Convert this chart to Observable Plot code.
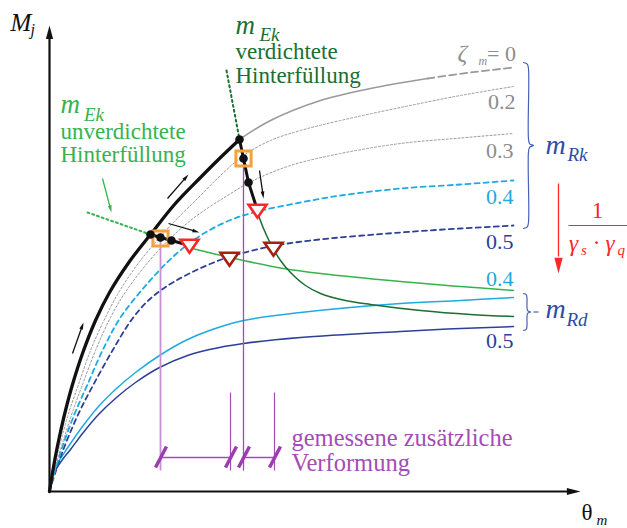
<!DOCTYPE html>
<html>
<head>
<meta charset="utf-8">
<script src="https://cdn.jsdelivr.net/npm/d3@7"></script>
<script src="https://cdn.jsdelivr.net/npm/@observablehq/plot@0.6"></script>
<style>
  html, body { margin: 0; padding: 0; background: #fff; }
  #chart svg text { font-family: "Liberation Serif", serif; }
</style>
</head>
<body>
<div id="chart"></div>
<script>
// Joint moment M_j against rotation θ_m (schematic units), resistance curves
// for several degrees of damage ζ_m and the two action curves m_Ek.

// Loading branch up to the intersection with the compacted-backfill action curve
const loadingPath = [[0,0],[0.2,1.3],[0.6,3.7],[1.2,7.1],[2,11],[3.2,16.2],[4.6,21.4],[6.6,27.6],[9.2,34.2],[12,39.8],[16,46],[20.2,51.4],[25,57.4],[30,62.6],[34,66.6],[38,70.4]];
// ζ_m = 0 characteristic resistance beyond the peak, solid then dashed
const rk00Upper = [[38,70.4],[44.2,74.2],[54.2,78.2],[64.2,80.6],[75.6,82.6]];
const rk00Tail = [[75.6,82.6],[84.2,83.8],[92.8,84.8]];
// characteristic resistance m_Rk for ζ_m = 0.2 … 0.5
const rk02 = [[0,0],[0.25,1.3],[0.76,3.7],[1.5,7.1],[2.5,11],[4,16.2],[5.8,21.4],[8.2,28.2],[10.6,33.6],[13.6,39.4],[17,44.6],[19.8,48.2],[24.2,53.2],[29.6,58.6],[34.2,63.2],[38.8,67.2],[44.2,70.2],[50.2,72.2],[58.2,74.2],[70.2,76.8],[82.2,79.2],[92.8,81]];
const rk03 = [[0,0],[0.3,1.3],[0.9,3.7],[1.8,7.1],[3,11],[4.7,16.2],[6.6,21.4],[9.2,28.2],[12.2,34.8],[15.4,40.2],[21.6,48],[28.2,54.2],[35.6,59.2],[40.8,62.2],[48.2,65.2],[58.2,67.6],[70.2,69.6],[82.2,70.7],[92.8,71.6]];
const rk04 = [[0,0],[0.33,1.3],[1,3.7],[2,7.1],[3.3,11],[5.3,16.2],[7.6,21.4],[10.6,28.2],[14.2,34.8],[19.6,41.6],[25.2,47.4],[30.2,51.2],[36.2,54.3],[41.6,56],[50.2,57.8],[58.2,59.2],[70.2,60.6],[82.2,61.4],[92.8,62.2]];
const rk05 = [[0,0],[0.38,1.3],[1.15,3.7],[2.3,7.1],[3.8,11],[6.1,16.2],[8.8,21.4],[12.6,28.2],[16.6,34.6],[20.2,38.6],[24,41.4],[27.2,43.2],[31.4,45.2],[36.2,47],[44.2,49],[52.2,50.2],[70.2,51.8],[82.2,52.6],[92.8,53.2]];
// design resistance m_Rd for ζ_m = 0.4 and 0.5
const rd04 = [[0,0],[0.2,1.8],[0.6,3.4],[1.4,5.4],[2.6,7.2],[4.2,9.6],[6.6,13],[9.8,17],[13.4,20.6],[17.2,23.8],[22,27.2],[27.2,30.2],[32,32.2],[38.8,34.2],[50.2,35.8],[70.2,37.6],[82.2,38.2],[92.8,38.8]];
const rd05 = [[0,0],[0.2,1.6],[0.6,3],[1.4,4.6],[2.6,6.4],[4.2,8.4],[6.6,11.6],[9.8,15.4],[13.4,18.8],[17.2,21.8],[22,24.8],[27.6,27.2],[32,28.4],[38.8,29.6],[50.2,30.8],[70.2,32],[82.2,32.6],[92.8,33]];
// action curves m_Ek
const ekLoose = [[28,48.8],[30.2,48.2],[38.8,46.2],[46.8,44.6],[54.2,43.6],[70.2,42],[82.2,41],[92.8,40.2]];
const ekLooseLead = [[7.6,55.8],[20.2,51.4]];
const ekDense = [[41.6,55.8],[42.8,52.6],[44.2,49.6],[46.2,46.2],[48.2,43.8],[51.2,41.2],[54.2,39.6],[59.2,38.2],[64.2,37.4],[74.2,36.2],[84.2,35.4],[92.8,35]];
const ekDenseLead = [[35.4,84.2],[38,70.4]];
// equilibrium paths after the load step
const pathLoose = [[20.2,51.4],[22.2,50.8],[24.4,50.2],[28,49.2]];
const pathDense = [[38,70.4],[38.8,66.6],[39.8,61.8],[41.6,56.2]];
const pathPoints = [[20.2,51.4],[22.2,50.8],[24.4,50.2],[38,70.4],[38.8,66.6],[39.8,61.8]];
const measuredStates = [[22.2,50.6],[38.8,66.6]];
const rkIntersections = [[28,49.2],[41.6,56.2]];
const rdIntersections = [[36,46.6],[44.8,48.6]];
// measured additional deformation
const measureStart = [22.2, 38.8];
const measureEnd = [36.2, 45.0];
const measureTop = [50.6, 66.6];
// direction arrows [θ1, M1, θ2, M2]
const directionArrows = [[4.6,27.6,6.8,33.8],[23.6,58.6,27.8,63.4],[23.8,53.6,30,51.8],[42,64.2,42.8,58.6]];
const looseArrow = [[10.6,62.6,12.4,55.8]];
// curve labels
const rkLabels = ["0.2", "0.3", "0.4", "0.5"];
const rkLabelM = [76.6, 66.8, 57.6, 48.6];
const rdLabels = ["0.4", "0.5"];
const rdLabelM = [41.2, 28.8];
const braces = [{name: "Rk", x: 94.8, top: 85.8, bottom: 52.6, tip: 96.8}, {name: "Rd", x: 94.8, top: 39.6, bottom: 32.2, tip: 96.2}];

const serif = "Liberation Serif";
const C = {
  gray: "#9a9a9a", grayText: "#8c8c8c", cyan: "#1eaae2", blue: "#2d3f98", blueText: "#2f4ba8",
  green: "#36b34e", dark: "#1b6f30", purple: "#a54bb8", purpleLight: "#c88fd7",
  orange: "#f6a23c", red: "#ff2626", darkRed: "#a4200f"
};

const P = a => a.map(([t, m]) => ({t, m}));
const curve = (a, o) => Plot.line(P(a), {x: "t", y: "m", curve: "catmull-rom", ...o});
const label = (s, t, m, o) => Plot.text([{s, t, m}], {
  x: "t", y: "m", text: "s", lineAnchor: "bottom", textAnchor: "start",
  fontFamily: serif, fontSize: 22, ...o
});

// filled arrow head with its tip at the anchor point; (dx, dy) is the screen direction
const head = (dx, dy) => ({
  draw(ctx, size) {
    const r = Math.sqrt(size / Math.PI), L = 3.4 * r, W = 0.9 * r, px = -dy, py = dx;
    ctx.moveTo(0, 0);
    ctx.lineTo(-dx * L + px * W, -dy * L + py * W);
    ctx.lineTo(-dx * L - px * W, -dy * L - py * W);
    ctx.closePath();
  }
});
const triangleDown = {
  draw(ctx, size) {
    const r = Math.sqrt(size / Math.PI);
    ctx.moveTo(-1.5 * r, -0.95 * r);
    ctx.lineTo(1.5 * r, -0.95 * r);
    ctx.lineTo(0, 1.2 * r);
    ctx.closePath();
  }
};

// both scales use the same number of pixels per unit, so screen direction = (dθ, -dM)
function arrowMarks(list, color) {
  return list.flatMap(([x1, y1, x2, y2]) => {
    const len = Math.hypot(x2 - x1, y2 - y1), ux = (x2 - x1) / len, uy = (y2 - y1) / len;
    return [
      Plot.link([{x1, y1, x2: x2 - ux * 0.9, y2: y2 - uy * 0.9}], {x1: "x1", y1: "y1", x2: "x2", y2: "y2", stroke: color, strokeWidth: 1.3}),
      Plot.dot([{t: x2, m: y2}], {x: "t", y: "m", symbol: head(ux, -uy), r: 2.1, fill: color})
    ];
  });
}

function braceShape({x, top, bottom, tip}) {
  const w = tip - x, mid = (top + bottom) / 2, c = Math.min(1.3, (top - bottom) * 0.12);
  return [[x, top], [x + 0.38 * w, top - 0.25 * c], [x + 0.5 * w, top - c], [x + 0.5 * w, mid + c],
    [x + 0.62 * w, mid + 0.25 * c], [tip, mid], [x + 0.62 * w, mid - 0.25 * c], [x + 0.5 * w, mid - c],
    [x + 0.5 * w, bottom + c], [x + 0.38 * w, bottom + 0.25 * c], [x, bottom]];
}

const spans = measureStart.map((a, i) => ({a, b: measureEnd[i], top: measureTop[i]}));
const ticks = [...measureStart, ...measureEnd];
const seg = (x1, y1, x2, y2, o) => Plot.link([{x1, y1, x2, y2}], {x1: "x1", y1: "y1", x2: "x2", y2: "y2", ...o});

const chart = Plot.plot({
  width: 627,
  height: 528,
  marginLeft: 49, marginRight: 47, marginTop: 25, marginBottom: 37,
  x: {domain: [0, 106.2], axis: null},
  y: {domain: [0, 93.2], axis: null},
  style: {background: "#fff", overflow: "visible", fontFamily: serif},
  marks: [
    // design resistance
    curve(rd05, {stroke: C.blue, strokeWidth: 1.5}),
    curve(rd04, {stroke: C.cyan, strokeWidth: 1.5}),
    // characteristic resistance
    curve(rk05, {stroke: C.blue, strokeWidth: 1.8, strokeDasharray: "5,4"}),
    curve(rk04, {stroke: C.cyan, strokeWidth: 1.8, strokeDasharray: "5,4"}),
    curve(rk03, {stroke: C.gray, strokeWidth: 1, strokeDasharray: "2,2"}),
    curve(rk02, {stroke: C.gray, strokeWidth: 1, strokeDasharray: "2,2"}),
    curve(rk00Upper, {stroke: C.gray, strokeWidth: 1.5}),
    curve(rk00Tail, {stroke: C.gray, strokeWidth: 1.8, strokeDasharray: "7,4"}),
    // action curves
    curve(ekLoose, {stroke: C.green, strokeWidth: 1.5}),
    curve(ekDense, {stroke: C.dark, strokeWidth: 1.5}),
    Plot.line(P(ekLooseLead), {x: "t", y: "m", stroke: C.green, strokeWidth: 2, strokeDasharray: "2,3"}),
    Plot.line(P(ekDenseLead), {x: "t", y: "m", stroke: C.dark, strokeWidth: 2, strokeDasharray: "2,3"}),
    // measured deformation
    Plot.link(spans, {x1: "a", x2: "a", y1: "top", y2: 4.2, stroke: (d, i) => i === 0 ? C.purpleLight : C.purple, strokeWidth: (d, i) => i === 0 ? 1.8 : 1.3}),
    Plot.link(measureEnd, {x1: d => d, x2: d => d, y1: 19.8, y2: 4.2, stroke: C.purple, strokeWidth: 1.2}),
    Plot.link(spans, {x1: "a", x2: "b", y1: 6.8, y2: 6.8, stroke: C.purple, strokeWidth: 1.5}),
    Plot.link(ticks, {x1: d => d - 1, x2: d => d + 1.2, y1: 4.8, y2: 9, stroke: "#9c3cb0", strokeWidth: 3.5}),
    // loading and equilibrium paths
    curve(loadingPath, {stroke: "#111", strokeWidth: 3.3}),
    Plot.line(P(pathLoose), {x: "t", y: "m", stroke: "#111", strokeWidth: 3}),
    Plot.line(P(pathDense), {x: "t", y: "m", stroke: "#111", strokeWidth: 3}),
    Plot.dot(P(measuredStates), {x: "t", y: "m", symbol: "square", r: 8.6, stroke: C.orange, strokeWidth: 3, fill: "none"}),
    Plot.dot(P(pathPoints), {x: "t", y: "m", r: 4.3, fill: "#111"}),
    Plot.dot(P(rkIntersections), {x: "t", y: "m", symbol: triangleDown, r: 6, stroke: C.red, strokeWidth: 2.6, fill: "#fff"}),
    Plot.dot(P(rdIntersections), {x: "t", y: "m", symbol: triangleDown, r: 6, stroke: C.darkRed, strokeWidth: 2.6, fill: "#fff"}),
    ...arrowMarks(directionArrows, "#111"),
    ...arrowMarks(looseArrow, C.green),
    // axes
    seg(0, 0, 0, 91, {stroke: "#111", strokeWidth: 2.2}),
    seg(0, 0, 103.6, 0, {stroke: "#111", strokeWidth: 2.2}),
    Plot.dot([{t: 0, m: 93.2}], {x: "t", y: "m", symbol: head(0, -1), r: 4, fill: "#111"}),
    Plot.dot([{t: 106.2, m: 0}], {x: "t", y: "m", symbol: head(1, 0), r: 4, fill: "#111"}),
    // braces
    ...braces.map(b => curve(braceShape(b), {stroke: "#4662b4", strokeWidth: 1.2})),
    Plot.link([braces[1]], {x1: d => d.tip + 0.6, x2: d => d.tip + 1.6, y1: d => (d.top + d.bottom) / 2, y2: d => (d.top + d.bottom) / 2, stroke: "#4662b4", strokeWidth: 1.2}),
    // partial safety factors
    seg(101.8, 61.6, 101.8, 47, {stroke: C.red, strokeWidth: 1.3}),
    Plot.dot([{t: 101.8, m: 43.6}], {x: "t", y: "m", symbol: head(0, 1), r: 4.6, fill: C.red}),
    seg(103.8, 53.2, 116, 53.2, {stroke: C.red, strokeWidth: 1.2}),
    label("1", 109.6, 54.8, {fill: C.red, fontSize: 23, textAnchor: "middle"}),
    label("γ", 103.9, 48.2, {fill: C.red, fontSize: 23, fontStyle: "italic"}),
    label("s", 106.3, 47.3, {fill: C.red, fontSize: 15, fontStyle: "italic"}),
    label("·", 109.4, 48.4, {fill: C.red, fontSize: 23, textAnchor: "middle"}),
    label("γ", 111.2, 48.2, {fill: C.red, fontSize: 23, fontStyle: "italic"}),
    label("q", 113.6, 47.3, {fill: C.red, fontSize: 15, fontStyle: "italic"}),
    // axis titles
    label("M", -7.8, 92.2, {fill: "#111", fontSize: 25, fontStyle: "italic"}),
    label("j", -3.8, 91.3, {fill: "#111", fontSize: 16, fontStyle: "italic"}),
    label("θ", 106.4, -5.6, {fill: "#111", fontSize: 23}),
    label("m", 109.4, -6.6, {fill: "#111", fontSize: 15, fontStyle: "italic"}),
    // action curve labels
    label("m", 37.2, 91.6, {fill: C.dark, fontSize: 27, fontStyle: "italic"}),
    label("Ek", 42.0, 90.2, {fill: C.dark, fontSize: 19, fontStyle: "italic"}),
    label("verdichtete", 37.2, 86.6, {fill: C.dark, fontSize: 23}),
    label("Hinterfüllung", 37.2, 81.8, {fill: C.dark, fontSize: 23}),
    label("m", 2.2, 75.8, {fill: C.green, fontSize: 27, fontStyle: "italic"}),
    label("Ek", 6.9, 74.2, {fill: C.green, fontSize: 19, fontStyle: "italic"}),
    label("unverdichtete", 2.2, 70.6, {fill: C.green, fontSize: 23}),
    label("Hinterfüllung", 2.2, 66, {fill: C.green, fontSize: 23}),
    // resistance curve labels
    label("ζ", 81.6, 86.2, {fill: C.grayText, fontSize: 24, fontStyle: "italic"}),
    label("m", 85.8, 85.4, {fill: C.grayText, fontSize: 12, fontStyle: "italic"}),
    label("= 0", 93.3, 86.2, {fill: C.grayText, fontSize: 22, textAnchor: "end"}),
    Plot.text(rkLabels, {x: (d, i) => i === 0 ? 93.2 : 92.8, y: (d, i) => rkLabelM[i], text: d => d,
      fill: (d, i) => i < 2 ? C.grayText : i === 2 ? C.cyan : C.blue,
      lineAnchor: "bottom", textAnchor: "end", fontFamily: serif, fontSize: 22}),
    Plot.text(rdLabels, {x: 92.8, y: (d, i) => rdLabelM[i], text: d => d,
      fill: (d, i) => i === 0 ? C.cyan : C.blue,
      lineAnchor: "bottom", textAnchor: "end", fontFamily: serif, fontSize: 22}),
    label("m", 99.2, 67.6, {fill: C.blueText, fontSize: 28, fontStyle: "italic"}),
    label("Rk", 103.6, 66.2, {fill: C.blueText, fontSize: 19, fontStyle: "italic"}),
    label("m", 99.2, 34.8, {fill: C.blueText, fontSize: 28, fontStyle: "italic"}),
    label("Rd", 103.4, 33.2, {fill: C.blueText, fontSize: 19, fontStyle: "italic"}),
    // measurement note
    label("gemessene zusätzliche", 48.4, 9.2, {fill: C.purple, fontSize: 24.5}),
    label("Verformung", 48.4, 4.2, {fill: C.purple, fontSize: 24.5})
  ]
});

// every label is typeset in the serif face
chart.querySelectorAll("text").forEach(t => t.setAttribute("font-family", serif));

document.getElementById("chart").append(chart);
</script>
</body>
</html>
